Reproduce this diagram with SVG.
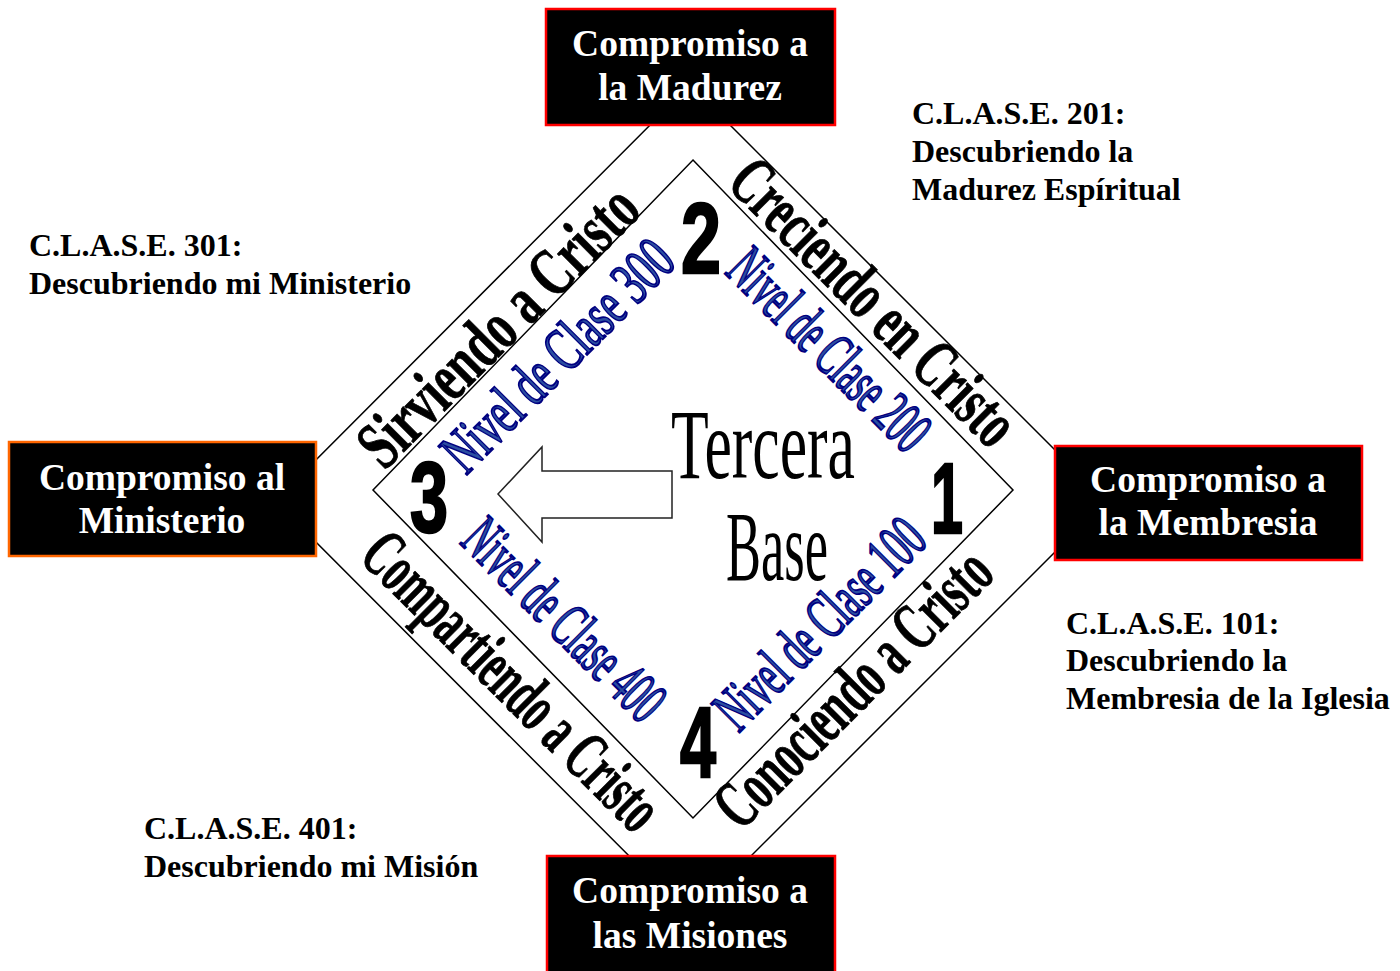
<svg xmlns="http://www.w3.org/2000/svg" width="1400" height="971" viewBox="0 0 1400 971">
<style>
.box{fill:#000;stroke-width:2.5}
.bt{font-family:"Liberation Serif",serif;font-weight:bold;font-size:37.5px;fill:#fff;text-anchor:middle}
.side{font-family:"Liberation Serif",serif;font-weight:bold;font-size:32px;fill:#000}
.band{font-family:"Liberation Serif",serif;font-weight:bold;font-size:69px;fill:#000;stroke:#000;stroke-width:0.8;text-anchor:middle}
.lvl{font-family:"Liberation Serif",serif;font-size:62px;fill:#2b4ea0;stroke:#000080;stroke-width:2;text-anchor:middle}
.num{font-family:"Liberation Sans",sans-serif;font-weight:bold;font-size:100px;fill:#000;stroke:#000;stroke-width:2.5;text-anchor:middle}
.big{font-family:"Liberation Serif",serif;font-size:100px;fill:#000;text-anchor:middle}
.ln{fill:none;stroke:#000;stroke-width:1.5}
</style>
<rect width="1400" height="971" fill="#fff"/>
<g id="connectors">
<polygon class="ln" points="690,85 1106,501 690,917 275,501"/>
<polygon class="ln" points="693,160 1013,490 693,818 373,490"/>
</g>
<g id="arrow">
<polygon points="672,471 542,471 542,447 498,494 542,542 542,518 672,518" fill="#fff" stroke="#222" stroke-width="1.5"/>
</g>
<g id="node-madurez">
<rect class="box" x="546" y="9" width="289" height="116" stroke="#ff0000"/>
<text class="bt" x="690" y="56">Compromiso a</text>
<text class="bt" x="690" y="100">la Madurez</text>
</g>
<g id="node-ministerio">
<rect class="box" x="9" y="442" width="307" height="114" stroke="#ff6600"/>
<text class="bt" x="162" y="490">Compromiso al</text>
<text class="bt" x="162" y="533">Ministerio</text>
</g>
<g id="node-membresia">
<rect class="box" x="1055" y="446" width="307" height="114" stroke="#ff0000"/>
<text class="bt" x="1208" y="492">Compromiso a</text>
<text class="bt" x="1208" y="535">la Membresia</text>
</g>
<g id="node-misiones">
<rect class="box" x="547" y="856" width="288" height="130" stroke="#ff0000"/>
<text class="bt" x="690" y="903">Compromiso a</text>
<text class="bt" x="690" y="948">las Misiones</text>
</g>
<g id="clase-201">
<text class="side" x="912" y="124">C.L.A.S.E. 201:</text>
<text class="side" x="912" y="162">Descubriendo la</text>
<text class="side" x="912" y="200">Madurez Espíritual</text>
</g>
<g id="clase-301">
<text class="side" x="29" y="256">C.L.A.S.E. 301:</text>
<text class="side" x="29" y="294">Descubriendo mi Ministerio</text>
</g>
<g id="clase-101">
<text class="side" x="1066" y="634">C.L.A.S.E. 101:</text>
<text class="side" x="1066" y="671">Descubriendo la</text>
<text class="side" x="1066" y="709">Membresia de la Iglesia</text>
</g>
<g id="clase-401">
<text class="side" x="144" y="839">C.L.A.S.E. 401:</text>
<text class="side" x="144" y="877">Descubriendo mi Misión</text>
</g>
<g id="bands">
<text class="band" transform="translate(514,342) rotate(-45)" textLength="366" lengthAdjust="spacingAndGlyphs">Sirviendo a Cristo</text>
<text class="band" transform="translate(858,318) rotate(45)" textLength="376" lengthAdjust="spacingAndGlyphs">Creciendo en Cristo</text>
<text class="band" transform="translate(496,697) rotate(45)" textLength="392" lengthAdjust="spacingAndGlyphs">Compartiendo a Cristo</text>
<text class="band" transform="translate(869,704) rotate(-45)" textLength="362" lengthAdjust="spacingAndGlyphs">Conociendo a Cristo</text>
</g>
<g id="levels">
<text class="lvl" transform="translate(572,370) rotate(-45)" textLength="300" lengthAdjust="spacingAndGlyphs">Nivel de Clase 300</text>
<text class="lvl" transform="translate(815,364) rotate(45)" textLength="258" lengthAdjust="spacingAndGlyphs">Nivel de Clase 200</text>
<text class="lvl" transform="translate(550,634) rotate(45)" textLength="258" lengthAdjust="spacingAndGlyphs">Nivel de Clase 400</text>
<text class="lvl" transform="translate(834,638) rotate(-45)" textLength="270" lengthAdjust="spacingAndGlyphs">Nivel de Clase 100</text>
</g>
<g id="numbers">
<text class="num" x="701" y="273" textLength="40" lengthAdjust="spacingAndGlyphs">2</text>
<text class="num" x="947" y="533" textLength="32" lengthAdjust="spacingAndGlyphs">1</text>
<text class="num" x="429" y="532" textLength="38" lengthAdjust="spacingAndGlyphs">3</text>
<text class="num" x="698" y="777" textLength="36" lengthAdjust="spacingAndGlyphs">4</text>
</g>
<g id="center-label">
<text class="big" x="763" y="478" textLength="184" lengthAdjust="spacingAndGlyphs">Tercera</text>
<text class="big" x="777" y="580" textLength="102" lengthAdjust="spacingAndGlyphs">Base</text>
</g>
</svg>
